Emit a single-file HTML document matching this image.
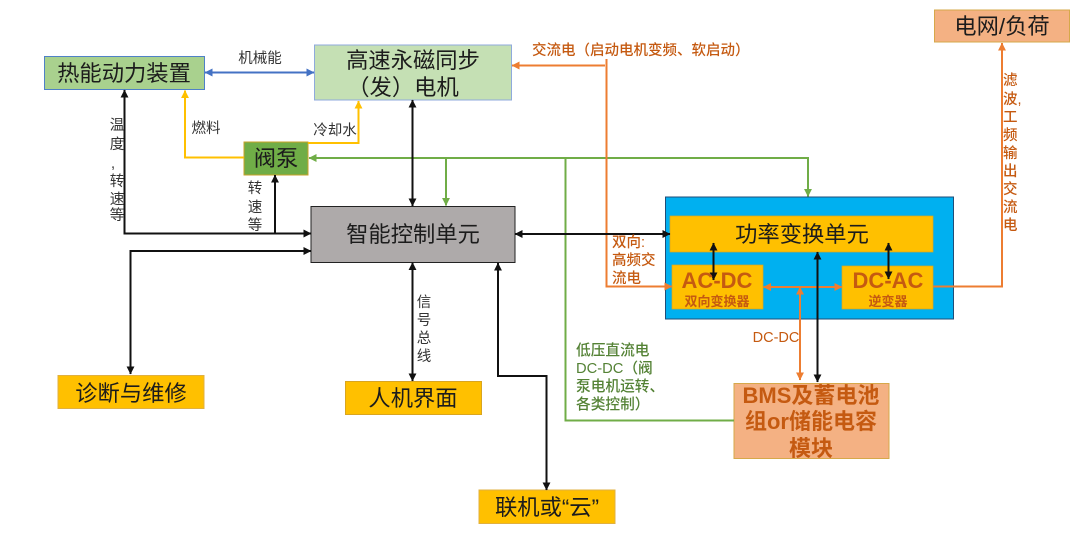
<!DOCTYPE html>
<html><head><meta charset="utf-8">
<style>
html,body{margin:0;padding:0;background:#fff;width:1080px;height:536px;overflow:hidden}
svg{display:block}
text{font-family:"Liberation Sans","Noto Sans CJK SC",sans-serif;text-anchor:middle}
.t{font-size:22.3px;fill:#1c1c1c}
.s{font-size:14.5px;fill:#333}
.o{font-size:14.5px;fill:#c55a11;font-weight:500}
.g{font-size:14.7px;fill:#548235;font-weight:500}
.l{text-anchor:start}
.b{font-weight:700;fill:#c55a11}
</style></head><body>
<svg width="1080" height="536" viewBox="0 0 1080 536" xmlns="http://www.w3.org/2000/svg">
<defs>
<marker id="kb" viewBox="0 0 10 10" refX="9.5" refY="5" markerWidth="8" markerHeight="8" markerUnits="userSpaceOnUse" orient="auto-start-reverse"><path d="M0 0L10 5L0 10z" fill="#111"/></marker>
<marker id="b" viewBox="0 0 10 10" refX="9.5" refY="5" markerWidth="8" markerHeight="8" markerUnits="userSpaceOnUse" orient="auto-start-reverse"><path d="M0 0L10 5L0 10z" fill="#4472c4"/></marker>
<marker id="y" viewBox="0 0 10 10" refX="9.5" refY="5" markerWidth="8" markerHeight="8" markerUnits="userSpaceOnUse" orient="auto-start-reverse"><path d="M0 0L10 5L0 10z" fill="#ffc000"/></marker>
<marker id="gr" viewBox="0 0 10 10" refX="9.5" refY="5" markerWidth="8" markerHeight="8" markerUnits="userSpaceOnUse" orient="auto-start-reverse"><path d="M0 0L10 5L0 10z" fill="#70ad47"/></marker>
<marker id="or" viewBox="0 0 10 10" refX="9.5" refY="5" markerWidth="8" markerHeight="8" markerUnits="userSpaceOnUse" orient="auto-start-reverse"><path d="M0 0L10 5L0 10z" fill="#ed7d31"/></marker>
</defs>

<!-- boxes -->
<rect x="44.5" y="56.5" width="160" height="33" fill="#a9d18e" stroke="#4f81c7" stroke-width="1"/>
<rect x="314.5" y="45" width="197" height="55" fill="#c5e0b4" stroke="#8faadc" stroke-width="1"/>
<rect x="244" y="142" width="64" height="33" fill="#70ad47" stroke="#c9a227" stroke-width="1"/>
<rect x="311" y="206.5" width="204" height="56" fill="#aeaaaa" stroke="#222" stroke-width="1"/>
<rect x="665.5" y="197" width="288" height="122" fill="#00b0f0" stroke="#1f4e79" stroke-width="1"/>
<rect x="670" y="216" width="263" height="36" fill="#ffc000" stroke="#d9a520" stroke-width="0.7"/>
<rect x="672" y="265" width="91" height="44" fill="#ffc000" stroke="#d9a520" stroke-width="0.7"/>
<rect x="842" y="266" width="91" height="43" fill="#ffc000" stroke="#d9a520" stroke-width="0.7"/>
<rect x="734" y="383.5" width="155" height="75" fill="#f4b183" stroke="#d6a84a" stroke-width="1"/>
<rect x="934.5" y="10" width="135" height="32" fill="#f4b183" stroke="#d6a84a" stroke-width="1"/>
<rect x="58" y="375.5" width="146" height="33" fill="#ffc000" stroke="#e0b040" stroke-width="1"/>
<rect x="345.5" y="381.5" width="136" height="33" fill="#ffc000" stroke="#d9a520" stroke-width="1"/>
<rect x="479" y="490" width="136" height="33.5" fill="#ffc000" stroke="#e0b040" stroke-width="1"/>

<!-- connectors -->
<g fill="none" stroke-width="2">
<path d="M205 72.500H314" stroke="#4472c4" marker-start="url(#b)" marker-end="url(#b)"/>
<path d="M244 157.500H185V90.500" stroke="#ffc000" marker-end="url(#y)"/>
<path d="M308 143H358.500V101" stroke="#ffc000" marker-end="url(#y)"/>
<path d="M808 196.500V158H309" stroke="#70ad47" marker-start="url(#gr)" marker-end="url(#gr)"/>
<path d="M446 158V205.500" stroke="#70ad47" marker-end="url(#gr)"/>
<path d="M734 420.500H565.500V158" stroke="#70ad47"/>
<path d="M605 65.500H512" stroke="#ed7d31" marker-end="url(#or)"/>
<path d="M606.500 59V286.500H672" stroke="#ed7d31" marker-end="url(#or)"/>
<path d="M933 286.500H1002V43" stroke="#ed7d31" marker-end="url(#or)"/>
<path d="M763.500 287H842" stroke="#ed7d31" marker-start="url(#or)" marker-end="url(#or)"/>
<path d="M800 287V380" stroke="#ed7d31" marker-start="url(#or)" marker-end="url(#or)"/>
</g>
<g fill="none" stroke="#111" stroke-width="2">
<path d="M124.500 90V233.500H311" marker-start="url(#kb)" marker-end="url(#kb)"/>
<path d="M275 233.500V175" marker-end="url(#kb)"/>
<path d="M311 251H130.500V374" marker-start="url(#kb)" marker-end="url(#kb)"/>
<path d="M412.500 100V206" marker-start="url(#kb)" marker-end="url(#kb)"/>
<path d="M412.500 262.500V381" marker-start="url(#kb)" marker-end="url(#kb)"/>
<path d="M498 263V376H546.500V490" marker-start="url(#kb)" marker-end="url(#kb)"/>
<path d="M515 234H670" marker-start="url(#kb)" marker-end="url(#kb)"/>
<path d="M713.500 243V280" marker-start="url(#kb)" marker-end="url(#kb)"/>
<path d="M888.500 243V279" marker-start="url(#kb)" marker-end="url(#kb)"/>
<path d="M817.500 252V382" marker-start="url(#kb)" marker-end="url(#kb)"/>
</g>

<!-- titles -->
<text class="t" x="124" y="81">热能动力装置</text>
<text class="t" x="413" y="68">高速永磁同步</text>
<text class="t" x="403" y="95">（发）电机</text>
<text class="t" x="276" y="166">阀泵</text>
<text class="t" x="413" y="242">智能控制单元</text>
<text class="t" x="802" y="242">功率变换单元</text>
<text class="t" x="1002" y="34">电网/负荷</text>
<text class="t" x="131" y="401">诊断与维修</text>
<text class="t" x="413" y="406">人机界面</text>
<text class="t" x="547" y="515">联机或“云”</text>

<text class="b" x="717" y="288" style="font-size:22px">AC-DC</text>
<text class="b" x="717" y="306" style="font-size:13px">双向变换器</text>
<text class="b" x="888" y="288" style="font-size:22px">DC-AC</text>
<text class="b" x="888" y="306" style="font-size:13px">逆变器</text>
<text class="b" x="811" y="403" style="font-size:22px">BMS及蓄电池</text>
<text class="b" x="811" y="429" style="font-size:22px">组or储能电容</text>
<text class="b" x="811" y="456" style="font-size:22px">模块</text>

<!-- small labels -->
<text class="s" x="260" y="63">机械能</text>
<text class="s" x="206" y="133">燃料</text>
<text class="s" x="335" y="135">冷却水</text>
<text class="s" x="117" y="130">温</text>
<text class="s" x="117" y="149">度</text>
<text class="s" x="113" y="168">,</text>
<text class="s" x="117" y="186">转</text>
<text class="s" x="117" y="204">速</text>
<text class="s" x="117" y="220">等</text>
<text class="s" x="255" y="193">转</text>
<text class="s" x="255" y="212">速</text>
<text class="s" x="255" y="230">等</text>
<text class="s" x="424" y="307">信</text>
<text class="s" x="424" y="325">号</text>
<text class="s" x="424" y="343">总</text>
<text class="s" x="424" y="361">线</text>

<text class="o l" x="532" y="55">交流电（启动电机变频、软启动）</text>
<text class="o l" x="612" y="247">双向:</text>
<text class="o l" x="612" y="265">高频交</text>
<text class="o l" x="612" y="283">流电</text>
<text class="o" x="776" y="342">DC-DC</text>
<text class="o l" x="1003" y="85">滤</text>
<text class="o l" x="1003" y="104">波,</text>
<text class="o l" x="1003" y="122">工</text>
<text class="o l" x="1003" y="140">频</text>
<text class="o l" x="1003" y="158">输</text>
<text class="o l" x="1003" y="176">出</text>
<text class="o l" x="1003" y="194">交</text>
<text class="o l" x="1003" y="212">流</text>
<text class="o l" x="1003" y="230">电</text>

<text class="g l" x="576" y="355">低压直流电</text>
<text class="g l" x="576" y="373">DC-DC（阀</text>
<text class="g l" x="576" y="391">泵电机运转、</text>
<text class="g l" x="576" y="409">各类控制）</text>
</svg>
</body></html>
